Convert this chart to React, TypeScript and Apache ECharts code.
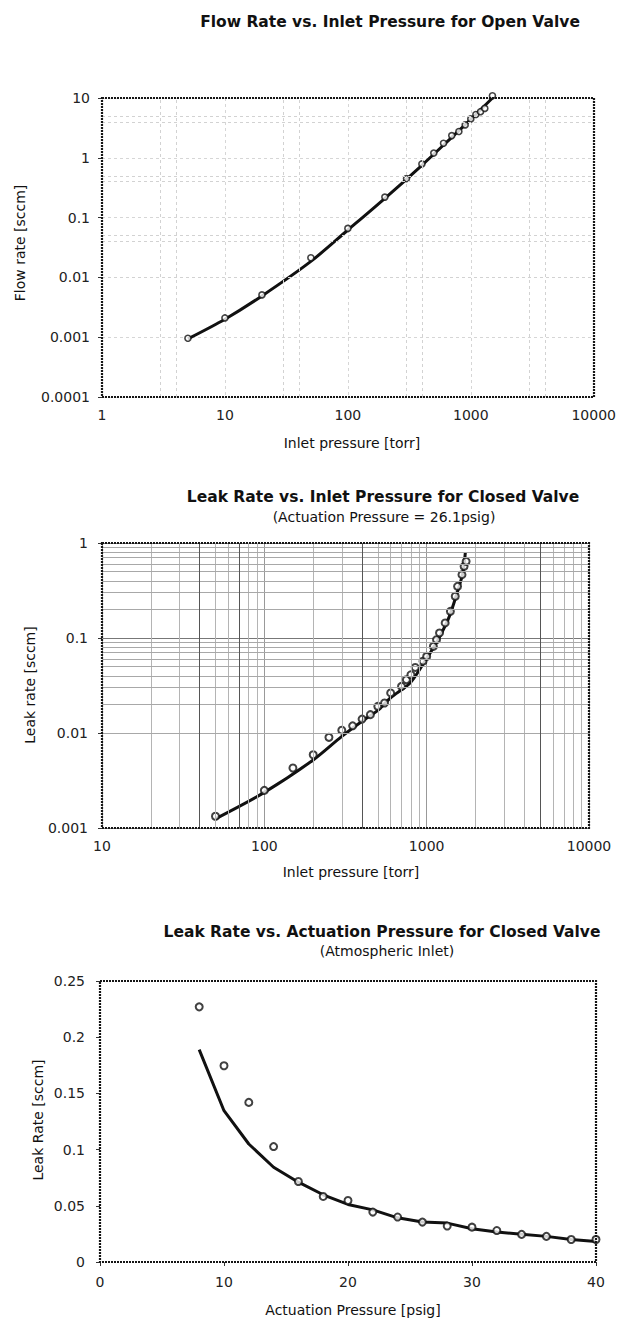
import React, { useEffect, useRef } from "react";
import * as echarts from "echarts";

// ---------- Chart 1: Flow Rate vs. Inlet Pressure for Open Valve ----------
const flowPressure = [5, 10, 20, 50, 100, 200, 300, 400, 500, 600, 700, 800, 900, 1000, 1100, 1200, 1300, 1500];
const flowRate = [0.00096, 0.0021, 0.0051, 0.0213, 0.066, 0.22, 0.45, 0.79, 1.2, 1.75, 2.35, 2.75, 3.55, 4.47, 5.3, 5.9, 6.7, 10.9];
const flowFitPressure = [5, 10, 20, 50, 100, 200, 400, 700, 1000, 1500];
const flowFitRate = [0.00094, 0.002, 0.0049, 0.0185, 0.062, 0.21, 0.75, 2.2, 4.4, 10];
const flowXTicks = [1, 10, 100, 1000, 10000];
const flowYTicks = [0.0001, 0.001, 0.01, 0.1, 1, 10];

// ---------- Chart 2: Leak Rate vs. Inlet Pressure for Closed Valve ----------
const leakPressure = [50, 100, 150, 200, 250, 300, 350, 400, 450, 500, 550, 600, 700, 750, 800, 850, 950, 1000, 1100, 1150, 1200, 1300, 1400, 1500, 1550, 1650, 1700, 1750];
const leakRate = [0.00133, 0.00249, 0.00428, 0.0059, 0.009, 0.0107, 0.0119, 0.014, 0.0156, 0.0191, 0.0207, 0.0264, 0.031, 0.0364, 0.041, 0.049, 0.057, 0.064, 0.0817, 0.096, 0.113, 0.144, 0.191, 0.275, 0.35, 0.464, 0.568, 0.641];
const leakFitPressure = [50, 100, 200, 300, 400, 500, 600, 790, 960, 1100, 1220, 1380, 1540, 1670, 1730];
const leakFitRate = [0.00125, 0.00237, 0.0052, 0.0092, 0.0133, 0.0173, 0.0235, 0.0336, 0.0546, 0.079, 0.108, 0.169, 0.298, 0.483, 0.785];
const leakXTicks = [10, 100, 1000, 10000];
const leakYTicks = [0.001, 0.01, 0.1, 1];
const leakDarkGridX = [40, 70, 400, 5000];

// ---------- Chart 3: Leak Rate vs. Actuation Pressure ----------
const actPressure = [8, 10, 12, 14, 16, 18, 20, 22, 24, 26, 28, 30, 32, 34, 36, 38, 40];
const actLeak = [0.227, 0.1746, 0.142, 0.1027, 0.0716, 0.0583, 0.0547, 0.0444, 0.04, 0.0355, 0.032, 0.031, 0.028, 0.0246, 0.0228, 0.02, 0.02];
const actFitLeak = [0.189, 0.1346, 0.105, 0.0843, 0.071, 0.0598, 0.0512, 0.0464, 0.0393, 0.0355, 0.0346, 0.0296, 0.0266, 0.0246, 0.0228, 0.02, 0.0183];
const actXTicks = [0, 10, 20, 30, 40];
const actYTicks = [0, 0.05, 0.1, 0.15, 0.2, 0.25];

const MULTS = [2, 3, 4, 5, 6, 7, 8, 9];

const FONT = '"DejaVu Sans", "Liberation Sans", sans-serif';
const INK = "#222";

const G1 = { left: 102, top: 98, width: 492, height: 299 };
const G2 = { left: 102, top: 543, width: 487, height: 285 };
const G3 = { left: 100, top: 981, width: 496, height: 281 };

const pairs = (xs: number[], ys: number[]) => xs.map((x, i) => [x, ys[i]]);
const fmt = (v: number) => String(Number(v.toPrecision(6)));
const minorVals = (ticks: number[]) =>
  ticks.slice(0, -1).flatMap((d) => MULTS.map((m) => Number((d * m).toPrecision(6))));

const frame = (g: typeof G1) => ({
  type: "rect",
  silent: true,
  z: 50,
  shape: { x: g.left, y: g.top, width: g.width, height: g.height },
  style: { fill: "none", stroke: "#151515", lineWidth: 2.2, lineDash: [2, 1] },
});

const txt = (text: string, x: number, y: number, size: number, bold = false, rot = 0) => ({
  type: "text",
  x,
  y,
  rotation: rot,
  silent: true,
  style: {
    text,
    font: `${bold ? "bold " : ""}${size}px ${FONT}`,
    fill: "#111",
    align: "center",
    verticalAlign: "middle",
    textAlign: "center",
    textVerticalAlign: "middle",
  },
});

const gridLines = (
  axis: "xAxis" | "yAxis",
  vals: number[],
  color: string,
  type: any = "solid"
) =>
  vals.map((v) => ({
    [axis]: v,
    lineStyle: { color, width: 1, type },
  }));

const labelBase = { color: INK, fontSize: 14, fontFamily: FONT };

export default function App() {
  const ref = useRef<HTMLDivElement>(null);

  useEffect(() => {
    document.body.style.margin = "0";
    if (!ref.current) return;
    const chart = echarts.init(ref.current, undefined, { renderer: "svg" });

    const option: any = {
      animation: false,
      backgroundColor: "#fff",
      grid: [
        { ...G1, containLabel: false },
        { ...G2, containLabel: false },
        { ...G3, containLabel: false },
      ],
      xAxis: [
        {
          type: "log",
          logBase: 10,
          gridIndex: 0,
          min: flowXTicks[0],
          max: flowXTicks[flowXTicks.length - 1],
          axisLine: { show: false },
          axisTick: { show: false },
          axisLabel: { ...labelBase, margin: 11, formatter: fmt },
          splitLine: { show: true, lineStyle: { color: "#d6d6d6", type: [3, 3] } },
        },
        {
          type: "log",
          logBase: 10,
          gridIndex: 1,
          min: leakXTicks[0],
          max: leakXTicks[leakXTicks.length - 1],
          axisLine: { show: false },
          axisTick: { show: false },
          axisLabel: { ...labelBase, margin: 11, formatter: fmt },
          splitLine: { show: true, lineStyle: { color: "#999", width: 1 } },
        },
        {
          type: "value",
          gridIndex: 2,
          min: actXTicks[0],
          max: actXTicks[actXTicks.length - 1],
          interval: 10,
          axisLine: { show: false },
          axisTick: { show: true, length: 4, inside: false, lineStyle: { color: "#333" } },
          axisLabel: { ...labelBase, margin: 13 },
          splitLine: { show: false },
        },
      ],
      yAxis: [
        {
          type: "log",
          logBase: 10,
          gridIndex: 0,
          min: flowYTicks[0],
          max: flowYTicks[flowYTicks.length - 1],
          axisLine: { show: false },
          axisTick: { show: true, length: 4, lineStyle: { color: "#333" } },
          axisLabel: { ...labelBase, margin: 12, formatter: fmt },
          splitLine: { show: true, lineStyle: { color: "#d6d6d6", type: [3, 3] } },
        },
        {
          type: "log",
          logBase: 10,
          gridIndex: 1,
          min: leakYTicks[0],
          max: leakYTicks[leakYTicks.length - 1],
          axisLine: { show: false },
          axisTick: { show: true, length: 4, lineStyle: { color: "#333" } },
          axisLabel: { ...labelBase, margin: 14, formatter: fmt },
          splitLine: { show: true, lineStyle: { color: "#777", width: 1.2 } },
        },
        {
          type: "value",
          gridIndex: 2,
          min: actYTicks[0],
          max: actYTicks[actYTicks.length - 1],
          interval: 0.05,
          axisLine: { show: false },
          axisTick: { show: true, length: 4, lineStyle: { color: "#333" } },
          axisLabel: { ...labelBase, margin: 15 },
          splitLine: { show: false },
        },
      ],
      series: [
        // ----- chart 1 -----
        {
          type: "line",
          xAxisIndex: 0,
          yAxisIndex: 0,
          data: [],
          z: 1,
          markLine: {
            silent: true,
            symbol: ["none", "none"],
            label: { show: false },
            data: [
              ...gridLines("xAxis", minorVals(flowXTicks).filter((v) => /^[34]/.test(String(v))), "#d2d2d2", [3, 3]),
              ...gridLines("yAxis", minorVals(flowYTicks).filter((v) => /^[45]/.test(String(v).replace(/^0\.0*/, ""))), "#d2d2d2", [3, 3]),
            ],
          },
        },
        {
          type: "line",
          xAxisIndex: 0,
          yAxisIndex: 0,
          data: pairs(flowFitPressure, flowFitRate),
          smooth: 0.3,
          showSymbol: false,
          lineStyle: { color: "#111", width: 3 },
          z: 3,
        },
        {
          type: "scatter",
          xAxisIndex: 0,
          yAxisIndex: 0,
          data: pairs(flowPressure, flowRate),
          symbol: "circle",
          symbolSize: 6,
          clip: false,
          itemStyle: { color: "#fff", borderColor: "#111", borderWidth: 1.6 },
          z: 4,
        },
        // ----- chart 2 -----
        {
          type: "line",
          xAxisIndex: 1,
          yAxisIndex: 1,
          data: [],
          z: 1,
          markLine: {
            silent: true,
            symbol: ["none", "none"],
            label: { show: false },
            data: [
              ...gridLines("xAxis", minorVals(leakXTicks), "#b4b4b4"),
              ...gridLines("yAxis", minorVals(leakYTicks), "#a8a8a8"),
              ...gridLines("xAxis", leakDarkGridX, "#555"),
            ],
          },
        },
        {
          type: "line",
          xAxisIndex: 1,
          yAxisIndex: 1,
          data: pairs(leakFitPressure, leakFitRate),
          smooth: 0.3,
          showSymbol: false,
          lineStyle: { color: "#111", width: 3 },
          z: 3,
        },
        {
          type: "scatter",
          xAxisIndex: 1,
          yAxisIndex: 1,
          data: pairs(leakPressure, leakRate),
          symbol: "circle",
          symbolSize: 7,
          clip: false,
          itemStyle: { color: "#fff", borderColor: "#111", borderWidth: 2 },
          z: 4,
        },
        // ----- chart 3 -----
        {
          type: "line",
          xAxisIndex: 2,
          yAxisIndex: 2,
          data: pairs(actPressure, actFitLeak),
          showSymbol: false,
          lineStyle: { color: "#111", width: 3 },
          z: 3,
        },
        {
          type: "scatter",
          xAxisIndex: 2,
          yAxisIndex: 2,
          data: pairs(actPressure, actLeak),
          symbol: "circle",
          symbolSize: 7,
          clip: false,
          itemStyle: { color: "#fff", borderColor: "#111", borderWidth: 2 },
          z: 4,
        },
      ],
      graphic: [
        frame(G1),
        frame(G2),
        frame(G3),
        txt("Flow Rate vs. Inlet Pressure for Open Valve", 390, 22, 15.5, true),
        txt("Inlet pressure [torr]", 352, 443, 14),
        txt("Flow rate [sccm]", 20, 243, 14, false, Math.PI / 2),
        txt("Leak Rate vs. Inlet Pressure for Closed Valve", 383, 497, 15.5, true),
        txt("(Actuation Pressure = 26.1psig)", 384, 517, 14),
        txt("Inlet pressure [torr]", 351, 872, 14),
        txt("Leak rate [sccm]", 30, 685, 14, false, Math.PI / 2),
        txt("Leak Rate vs. Actuation Pressure for Closed Valve", 382, 932, 15.5, true),
        txt("(Atmospheric Inlet)", 387, 951, 14),
        txt("Actuation Pressure [psig]", 353, 1310, 14),
        txt("Leak Rate [sccm]", 38, 1120, 14, false, Math.PI / 2),
      ],
    };

    chart.setOption(option);
    return () => chart.dispose();
  }, []);

  return <div ref={ref} style={{ width: 619, height: 1318 }} />;
}
